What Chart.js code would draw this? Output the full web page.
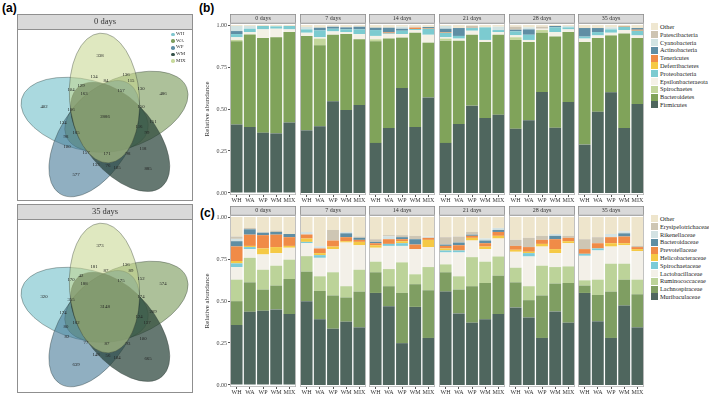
<!DOCTYPE html>
<html>
<head>
<meta charset="utf-8">
<script src="https://cdn.jsdelivr.net/npm/chart.js@4.4.1/dist/chart.umd.min.js"></script>
<style>
body { margin: 0; background: #fff; }
#fig { position: relative; width: 709px; height: 398px; overflow: hidden; font-family: "Liberation Serif", serif; }
#fig canvas { position: absolute; }
.tag { position: absolute; font-family: "Liberation Sans", Arial, sans-serif; font-weight: bold; font-size: 12px; line-height: 12px; }
.leg { position: absolute; font-size: 6.3px; color: #222; white-space: nowrap; }
.leg div { position: relative; height: 7.8px; line-height: 7.8px; padding-left: 9px; }
.leg span { position: absolute; left: 0; top: 0.4px; width: 7px; height: 7px; }
.vleg { position: absolute; font-size: 5px; color: #333; white-space: nowrap; }
.vleg div { position: relative; height: 6.7px; line-height: 6.7px; padding-left: 5px; }
.vleg span { position: absolute; left: 0; top: 1.6px; width: 3.6px; height: 3.6px; border-radius: 50%; }
</style>
</head>
<body>
<div id="fig">
  <div class="tag" style="left:2px;top:2px">(a)</div>
  <div class="tag" style="left:199px;top:2px">(b)</div>
  <div class="tag" style="left:200px;top:207px">(c)</div>
</div>
<script>
var days = ["0 days", "7 days", "14 days", "21 days", "28 days", "35 days"];
var groups = ["WH", "WA", "WP", "WM", "MIX"];
var yTicks = [0, 0.25, 0.5, 0.75, 1];

// (b) phyla, bottom of the stack first; each array = 6 days x (WH, WA, WP, WM, MIX)
var phyla = ["Firmicutes", "Bacteroidetes", "Spirochaetes", "Epsilonbacteraeota", "Proteobacteria",
  "Deferribacteres", "Tenericutes", "Actinobacteria", "Cyanobacteria", "Patescibacteria", "Other"];
var firmicutes = [.407,.393,.359,.355,.419, .373,.397,.546,.494,.524, .298,.387,.625,.393,.569, .298,.411,.520,.446,.466, .383,.433,.601,.389,.542, .288,.484,.599,.387,.530];
var bacteroidetes = [.496,.551,.564,.572,.539, .562,.482,.396,.452,.391, .605,.532,.300,.561,.326, .609,.496,.422,.453,.476, .528,.466,.353,.542,.416, .611,.439,.339,.563,.393];
var spirochaetes = [.008,0,0,0,0, 0,.040,0,0,0, .012,0,0,0,0, .012,0,0,0,0, .016,0,.016,0,0, 0,0,0,0,0];
var epsilonbacteraeota = [.016,.014,.051,.051,.016, .019,.008,.020,.012,.031, .020,.027,.021,.016,.047, .008,.012,.024,.012,.016, .012,.012,.008,.027,.016, .020,.015,.016,.020,.015];
var proteobacteria = [.019,.020,.020,.014,.020, .020,.041,.016,.016,.028, .035,.004,.020,.006,.036, .027,.016,.016,.075,.012, .023,.031,0,.028,.012, .012,.020,.020,.020,.028];
var deferribacteres = [0,0,0,0,0, 0,0,0,0,0, 0,0,0,0,0, 0,0,0,0,0, 0,0,0,0,0, 0,0,0,0,0];
var tenericutes = [0,0,0,0,0, 0,0,0,0,0, 0,.006,0,.008,.004, .004,0,0,0,0, 0,0,0,0,0, 0,0,0,.004,.006];
var actinobacteria = [.018,0,0,0,0, 0,.016,.012,.012,.016, .014,.028,.012,0,.006, .020,.047,0,0,0, .010,.032,0,.008,0, .051,.024,0,0,.010];
var cyanobacteria = [.030,.016,0,0,0, .014,0,0,0,0, 0,0,.012,0,0, .016,0,0,0,.020, 0,.012,0,0,.008, 0,0,.012,0,0];
var patescibacteria = [0,0,0,0,0, 0,0,0,0,0, 0,0,0,.006,0, 0,0,.012,0,0, .018,0,.012,0,0, 0,0,0,0,0];
var otherPhyla = [.006,.006,.006,.008,.006, .012,.016,.010,.014,.010, .016,.016,.010,.010,.012, .006,.018,.006,.014,.010, .010,.014,.010,.006,.006, .018,.018,.014,.006,.018];

// (c) families, bottom of the stack first
var families = ["Muribaculaceae", "Lachnospiraceae", "Ruminococcaceae", "Lactobacillaceae", "Spirochaetaceae",
  "Helicobacteraceae", "Prevotellaceae", "Bacteroidaceae", "Rikenellaceae", "Erysipelotrichaceae", "Other"];
var muribaculaceae = [.357,.436,.442,.450,.422, .499,.391,.335,.377,.343, .548,.469,.249,.465,.280, .556,.426,.371,.391,.422, .462,.402,.280,.438,.371, .548,.379,.280,.473,.343];
var lachnospiraceae = [.142,.175,.126,.142,.209, .176,.169,.198,.144,.213, .123,.119,.299,.135,.284, .115,.142,.217,.216,.229, .149,.103,.253,.166,.236, .044,.157,.276,.154,.197];
var ruminococcaceae = [.128,.146,.118,.118,.115, .092,.087,.138,.067,.130, .063,.102,.182,.059,.138, .047,.079,.173,.127,.114, .087,.083,.177,.098,.099, .031,.091,.166,.095,.087];
var lactobacillaceae = [.075,.052,.091,.075,.071, .077,.110,.138,.260,.146, .083,.138,.098,.150,.119, .071,.142,.099,.075,.107, .095,.177,.114,.083,.138, .146,.174,.102,.110,.170];
var spirochaetaceae = [.022,.012,0,0,0, .008,.016,0,0,0, 0,.012,.016,0,0, .012,.012,0,0,0, 0,.020,0,0,0, .012,.012,0,0,0];
var helicobacteraceae = [.014,.007,.036,.036,.011, .020,.012,.015,.008,.020, .015,0,.012,0,.043, .012,0,.016,.015,.016, .012,.008,.016,.024,.012, 0,0,.020,.012,.012];
var prevotellaceae = [.087,.067,.079,.074,.052, .024,.028,.036,.024,.012, .012,.028,.012,.027,.012, .015,.031,.012,.020,.023, .023,.028,.024,.059,.020, .028,.031,.036,.040,.012];
var bacteroidaceae = [.031,.032,.015,.016,.019, 0,0,0,.023,.012, .008,0,.012,.032,0, .008,.016,.007,.016,.012, 0,0,0,.020,0, 0,0,0,.019,0];
var rikenellaceae = [.014,0,0,0,0, .015,.013,0,.008,0, 0,.016,0,0,.008, 0,0,0,.012,.012, 0,0,0,.011,0, 0,0,.019,.012,0];
var erysipelotrichaceae = [.014,.008,0,.008,0, 0,0,.063,0,.008, .016,.008,.012,.020,0, .044,.036,.016,0,0, .036,.055,.024,0,.012, .059,.036,0,0,.007];
var otherFamilies = [.116,.065,.093,.081,.101, .089,.174,.077,.089,.116, .132,.108,.108,.112,.116, .120,.116,.089,.128,.065, .136,.124,.112,.101,.112, .132,.120,.101,.085,.172];

// (a) Venn counts, same region order for both days
var vennSets = ["WH", "WA", "WP", "WM", "MIX"];
var vennDay0 = [338,136,134,84,115,129,104,163,157,130,486,402,150,106,2886,134,116,151,165,99,98,100,118,157,171,98,133,76,105,885,577];
var vennDay35 = [373,136,181,87,89,42,170,188,175,152,574,320,174,355,3148,174,124,209,162,137,80,82,100,77,87,93,148,56,104,665,639];

var phylumValues = [firmicutes, bacteroidetes, spirochaetes, epsilonbacteraeota, proteobacteria,
  deferribacteres, tenericutes, actinobacteria, cyanobacteria, patescibacteria, otherPhyla];
var familyValues = [muribaculaceae, lachnospiraceae, ruminococcaceae, lactobacillaceae, spirochaetaceae,
  helicobacteraceae, prevotellaceae, bacteroidaceae, rikenellaceae, erysipelotrichaceae, otherFamilies];

var phylumColors = ["#4f665e", "#80a35a", "#c2d69b", "#f4f1e6", "#7ccbd0", "#f5c945", "#f08b47", "#5f8ea4", "#d2e4e3", "#cdc4b2", "#efe7d1"];
var familyColors = ["#4f665e", "#7f9e62", "#bcd399", "#f3f0e8", "#7ccbd8", "#f5c945", "#f08b47", "#5f8ea4", "#d3e2e3", "#cec6b4", "#eee5cc"];

var vennColors = ["rgba(100,185,196,0.55)", "rgba(118,152,86,0.6)", "rgba(70,122,152,0.6)", "rgba(35,62,52,0.7)", "rgba(196,214,140,0.55)"];
var vennLegendColors = ["#7fc6cf", "#7f9f5f", "#5f8ea6", "#34514a", "#c8da9c"];

// layout
var serif = "Liberation Serif";
var facetX = [230, 300, 369, 439, 509, 578];
var facetW = 66;
var fig = document.getElementById("fig");

var frame = {
  id: "frame",
  beforeDatasetsDraw: function(chart) {
    var a = chart.chartArea, c = chart.ctx;
    c.save();
    c.fillStyle = "#d9d9d9";
    c.fillRect(a.left, a.top - 9, a.right - a.left, 9);
    c.strokeStyle = "#8f8f8f";
    c.lineWidth = 0.8;
    c.strokeRect(a.left + 0.4, a.top - 9 + 0.4, a.right - a.left - 0.8, 9);
    c.fillStyle = "#333";
    c.font = "6px " + serif;
    c.textAlign = "center";
    c.textBaseline = "middle";
    c.fillText(chart.options.plugins.frame.strip, (a.left + a.right) / 2, a.top - 4.3);
    c.restore();
  },
  afterDraw: function(chart) {
    var a = chart.chartArea, c = chart.ctx;
    c.save();
    c.strokeStyle = "#b5b5b5";
    c.lineWidth = 0.8;
    c.strokeRect(a.left + 0.4, a.top, a.right - a.left - 0.8, a.bottom - a.top - 0.4);
    c.restore();
  }
};

function facet(left, top, day, names, values, colors, showY) {
  var yw = showY ? 27 : 0;
  var cv = document.createElement("canvas");
  cv.width = facetW + yw + 2;
  cv.height = 192;
  cv.style.left = (left - yw) + "px";
  cv.style.top = top + "px";
  fig.appendChild(cv);

  var sets = [];
  for (var k = 0; k < names.length; k++) {
    sets.push({
      label: names[k],
      data: values[k].slice(day * 5, day * 5 + 5),
      backgroundColor: colors[k],
      borderWidth: 0,
      barPercentage: 0.9,
      categoryPercentage: 1
    });
  }

  new Chart(cv, {
    type: "bar",
    data: { labels: groups, datasets: sets },
    plugins: [frame],
    options: {
      responsive: false,
      animation: false,
      devicePixelRatio: 1,
      layout: { padding: { top: 10, right: 2, left: 0, bottom: 0 } },
      plugins: { legend: { display: false }, tooltip: { enabled: false }, frame: { strip: days[day] } },
      scales: {
        x: {
          stacked: true,
          border: { display: false },
          grid: { display: true, drawOnChartArea: false, offset: false, tickLength: 2, color: "#555" },
          ticks: { color: "#333", font: { family: serif, size: 6 }, padding: 0, maxRotation: 0, autoSkip: false },
          afterFit: function(s) { s.height = 10; }
        },
        y: {
          stacked: true,
          display: showY,
          min: -0.012,
          max: 1.012,
          border: { display: false },
          grid: { drawOnChartArea: false, tickLength: 2, color: "#555" },
          afterBuildTicks: function(s) { s.ticks = yTicks.map(function(v) { return { value: v }; }); },
          ticks: { color: "#444", font: { family: serif, size: 6 }, padding: 1, callback: function(v) { return v.toFixed(2); } },
          title: { display: true, text: "Relative abundance", color: "#333", font: { family: serif, size: 7 }, padding: { top: 0, bottom: 1 } },
          afterFit: function(s) { s.width = yw; }
        }
      }
    }
  });
}

function legend(left, top, names, colors) {
  var d = document.createElement("div");
  d.className = "leg";
  d.style.left = left + "px";
  d.style.top = top + "px";
  for (var k = names.length - 1; k >= 0; k--) {
    var row = document.createElement("div");
    var sw = document.createElement("span");
    sw.style.background = colors[k];
    row.appendChild(sw);
    row.appendChild(document.createTextNode(names[k]));
    d.appendChild(row);
  }
  fig.appendChild(d);
}

for (var i = 0; i < days.length; i++) {
  facet(facetX[i], 13, i, phyla, phylumValues, phylumColors, i === 0);
  facet(facetX[i], 205, i, families, familyValues, familyColors, i === 0);
}
legend(651, 23, phyla, phylumColors);
legend(651, 215, families, familyColors);

// ---- (a) Venn diagrams ----
// label spots inside the diagram box (px from the top-left of the plotting area)
var vennLabelX = [83,109,77,89,114,64,54,67,104,124,146,27,124,54,88,46,122,136,59,130,49,50,126,69,90,111,79,91,100,131,59];
var vennLabelY = [27,46,48,52,52,57,61,65,62,60,65,78,78,81,88,94,98,93,104,104,108,118,120,124,125,125,136,137,139,140,146];
var vennShape = { cx: 89, cy: 91, offset: 22, a: 65, b: 35 };
var vennAngle = [284, 68, 212, 140, -4]; // WH, WA, WP, WM, MIX

var vennDraw = {
  id: "vennDraw",
  beforeDatasetsDraw: function(chart) {
    var a = chart.chartArea, c = chart.ctx;
    var xs = chart.scales.x, ys = chart.scales.y;
    var ux = xs.getPixelForValue(1) - xs.getPixelForValue(0);
    c.save();
    c.fillStyle = "#d9d9d9";
    c.fillRect(a.left, a.top - 15, a.right - a.left, 15);
    c.strokeStyle = "#8f8f8f";
    c.lineWidth = 1;
    c.strokeRect(a.left + 0.5, a.top - 15 + 0.5, a.right - a.left - 1, a.bottom - a.top + 14);
    c.beginPath();
    c.moveTo(a.left, a.top + 0.5);
    c.lineTo(a.right, a.top + 0.5);
    c.stroke();
    c.fillStyle = "#333";
    c.font = "8.5px " + serif;
    c.textAlign = "center";
    c.textBaseline = "middle";
    c.fillText(chart.options.plugins.vennDraw.strip, (a.left + a.right) / 2, a.top - 7);

    for (var k = 0; k < vennSets.length; k++) {
      var t = vennAngle[k] * Math.PI / 180;
      var ex = xs.getPixelForValue(vennShape.cx + vennShape.offset * Math.sin(t));
      var ey = ys.getPixelForValue(vennShape.cy - vennShape.offset * Math.cos(t));
      c.beginPath();
      c.ellipse(ex, ey, vennShape.b * ux, vennShape.a * ux, t, 0, Math.PI * 2);
      c.fillStyle = vennColors[k];
      c.fill();
      c.strokeStyle = "rgba(40,50,45,0.6)";
      c.lineWidth = 0.6;
      c.stroke();
    }
    var counts = chart.options.plugins.vennDraw.counts;
    c.fillStyle = "#222";
    c.font = "4.8px " + serif;
    for (var j = 0; j < counts.length; j++) {
      c.fillText(String(counts[j]), xs.getPixelForValue(vennLabelX[j]), ys.getPixelForValue(vennLabelY[j]));
    }
    c.restore();
  }
};

function venn(top, height, strip, counts) {
  var cv = document.createElement("canvas");
  cv.width = 176;
  cv.height = height;
  cv.style.left = "17px";
  cv.style.top = top + "px";
  fig.appendChild(cv);
  new Chart(cv, {
    type: "scatter",
    data: { datasets: [] },
    plugins: [vennDraw],
    options: {
      responsive: false,
      animation: false,
      devicePixelRatio: 1,
      layout: { padding: { top: 15, left: 0, right: 0, bottom: 0 } },
      plugins: { legend: { display: false }, tooltip: { enabled: false }, vennDraw: { strip: strip, counts: counts } },
      scales: {
        x: { display: false, min: 0, max: 176 },
        y: { display: false, min: 0, max: height - 15, reverse: true }
      }
    }
  });
}

venn(14, 187, days[0], vennDay0);
venn(204, 189, days[5], vennDay35);

var vl = document.createElement("div");
vl.className = "vleg";
vl.style.left = "171px";
vl.style.top = "31px";
for (var s = 0; s < vennSets.length; s++) {
  var row = document.createElement("div");
  var dot = document.createElement("span");
  dot.style.background = vennLegendColors[s];
  row.appendChild(dot);
  row.appendChild(document.createTextNode(vennSets[s]));
  vl.appendChild(row);
}
fig.appendChild(vl);
</script>
</body>
</html>
